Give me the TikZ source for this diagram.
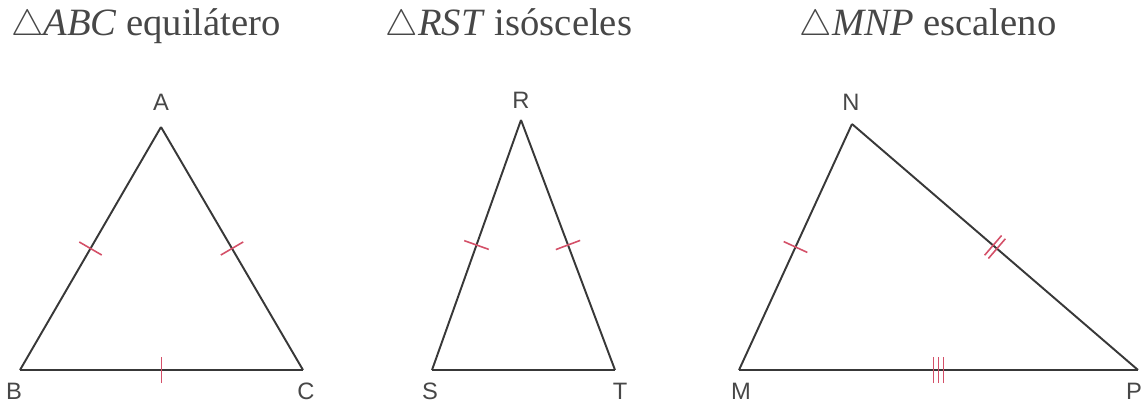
\documentclass[tikz,border=0pt]{standalone}
\usepackage{fontspec}
\setmainfont{Liberation Serif}
\setsansfont{Liberation Sans}
\usetikzlibrary{decorations.markings}
\definecolor{tickred}{RGB}{212,80,104}
\tikzset{
  side/.style ={line width=1.1pt, draw=black!78, line join=miter},
  ttl/.style  ={font=\fontsize{22}{26}\selectfont, text=black!72,
                anchor=base, inner sep=0pt},
  vlbl/.style ={font=\sffamily\fontsize{13.5}{16}\selectfont, text=black!72,
                inner sep=0pt},
  tk/.style   ={draw=tickred, line width=0.9pt},
  tick1/.style={postaction={decorate, decoration={markings,
                mark=at position 0.5 with {\draw[tk] (0,-0.26cm) -- (0,0.26cm);}}}},
  tick2/.style={postaction={decorate, decoration={markings,
                mark=at position 0.5 with {
                  \draw[tk] (-0.05cm,-0.26cm) -- (-0.05cm,0.26cm);
                  \draw[tk] (0.05cm,-0.26cm) -- (0.05cm,0.26cm);}}}},
  tick3/.style={postaction={decorate, decoration={markings,
                mark=at position 0.5 with {
                  \draw[tk] (-0.1cm,-0.26cm) -- (-0.1cm,0.26cm);
                  \draw[tk] (0,-0.26cm) -- (0,0.26cm);
                  \draw[tk] (0.1cm,-0.26cm) -- (0.1cm,0.26cm);}}}},
}
\begin{document}
\begin{tikzpicture}[x=0.02cm, y=-0.02cm]
  \useasboundingbox (0,0) rectangle (1145,405);
  % titles
  \node[ttl] (tABC) at (146,36) {$\triangle$\textit{ABC} equilátero};
  \node[ttl] (tRST) at (509,36) {$\triangle$\textit{RST} isósceles};
  \node[ttl] (tMNP) at (928,36) {$\triangle$\textit{MNP} escaleno};

  % equilateral
  \coordinate (A) at (161,127);
  \coordinate (B) at (20,370);
  \coordinate (C) at (303,370);
  \draw[side, tick1] (B) -- (A);
  \draw[side, tick1] (A) -- (C);
  \draw[side, tick1] (B) -- (C);
  \node[vlbl] (lA) at (161,102) {A};
  \node[vlbl] (lB) at (14,391) {B};
  \node[vlbl] (lC) at (306,391) {C};

  % isosceles
  \coordinate (R) at (521,120);
  \coordinate (S) at (432,370);
  \coordinate (T) at (615,370);
  \draw[side, tick1] (S) -- (R);
  \draw[side, tick1] (R) -- (T);
  \draw[side] (S) -- (T);
  \node[vlbl] (lR) at (521,100) {R};
  \node[vlbl] (lS) at (430,391) {S};
  \node[vlbl] (lT) at (620,391) {T};

  % scalene
  \coordinate (N) at (852,124);
  \coordinate (M) at (739,370);
  \coordinate (P) at (1138,370);
  \draw[side, tick1] (M) -- (N);
  \draw[side, tick2] (N) -- (P);
  \draw[side, tick3] (M) -- (P);
  \node[vlbl] (lN) at (851,102) {N};
  \node[vlbl] (lM) at (741,391) {M};
  \node[vlbl] (lP) at (1134,391) {P};
\end{tikzpicture}
\end{document}
